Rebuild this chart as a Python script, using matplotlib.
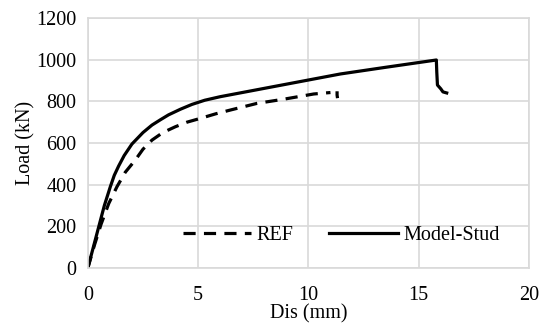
import matplotlib.pyplot as plt
import numpy as np

# data
model_dis = [0, 0.25, 0.5, 0.75, 1.02, 1.2, 1.4, 1.65, 2.0, 2.5, 2.91, 3.3, 3.66,
             4.2, 4.72, 5.3, 6.0, 7.0, 8.0, 10.0, 11.45, 13.5, 15.8,
             15.82, 15.85, 16.0, 16.1, 16.27]
model_load = [0, 100, 200, 300, 390, 445, 490, 540, 595, 650, 686, 712, 735,
              762, 785, 805, 822, 842, 862, 902, 931, 963, 998,
              940, 878, 860, 845, 840]

ref_dis = [0, 0.3, 0.6, 0.95, 1.32, 1.7, 2.15, 2.5, 2.91, 3.4, 3.97, 4.5, 5.1,
           5.8, 6.46, 7.67, 8.88, 10.24, 11.0, 11.3, 11.3, 11.32]
ref_load = [0, 110, 210, 310, 390, 460, 518, 570, 614, 650, 678, 700, 718,
            740, 758, 790, 810, 835, 842, 848, 830, 815]

xticks = [0, 5, 10, 15, 20]
yticks = [0, 200, 400, 600, 800, 1000, 1200]

plt.rcParams['font.family'] = ['Liberation Serif', 'DejaVu Serif']

fig = plt.figure(figsize=(5.42, 3.25), dpi=100)
ax = fig.add_axes([0.162, 0.175, 0.814, 0.77])

dash = (0, (3.8, 2.6))
ax.plot(ref_dis[:-3], ref_load[:-3], color='black', lw=2.3, ls=dash, label='REF')
# end hook of REF curve
ax.plot(ref_dis[-3:], ref_load[-3:], color='black', lw=2.3, ls=dash)
ax.plot(model_dis, model_load, color='black', lw=2.3, label='Model-Stud')

ax.set_xlim(0, 20)
ax.set_ylim(0, 1200)
ax.set_xticks(xticks)
ax.set_yticks(yticks)
ax.grid(True, color='#d9d9d9', lw=1.2)
ax.set_axisbelow(True)
for s in ax.spines.values():
    s.set_color('#d9d9d9')
    s.set_linewidth(1.2)
ax.tick_params(length=0, labelsize=14.5)
ax.tick_params(axis='x', pad=13)
ax.tick_params(axis='y', pad=8)

ax.set_xlabel('Dis (mm)', fontsize=14.5, labelpad=-1)
ax.set_ylabel('Load (kN)', fontsize=14.5, labelpad=1)

ax.legend(loc='center left', bbox_to_anchor=(0.2154, 0.132), ncol=2, frameon=False,
          fontsize=14.5, handlelength=3.4, handletextpad=0.25, columnspacing=1.8,
          borderpad=0, borderaxespad=0)

fig.savefig('out.png', dpi=100)
